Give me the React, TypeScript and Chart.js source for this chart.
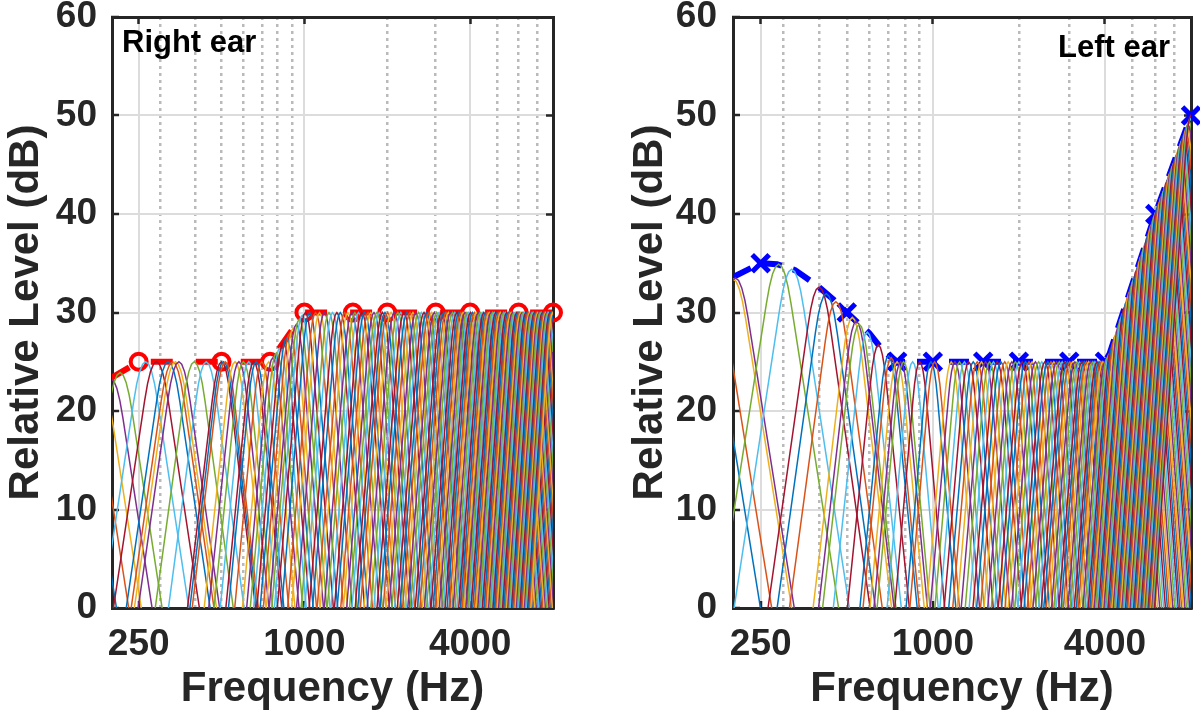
import { useEffect, useRef } from "react"
import { Chart, registerables } from "chart.js"

Chart.register(...registerables)

const FONT = '"Liberation Sans", Arial, Helvetica, sans-serif'
const INK = "#262626"
const GRID = "#dcdcdc"
const MINOR_GRID = "#bababa"
// MATLAB default colour order
const lineColors = ["#0072BD", "#D95319", "#EDB120", "#7E2F8E", "#77AC30", "#4DBEEE", "#A2142F"]

// axes
const freqMin = 200
const freqMax = 8000
const freqTicks = [250, 1000, 4000]
const freqMinorTicks = [300, 400, 500, 600, 700, 800, 900, 2000, 3000, 5000, 6000, 7000]

// right ear audiogram (red circles); 125 Hz sits left of the visible range
const rightEarHz = [125, 250, 500, 750, 1000, 1500, 2000, 3000, 4000, 6000, 8000]
const rightEarDb = [20, 25, 25, 25, 30, 30, 30, 30, 30, 30, 30]

// left ear audiogram (blue crosses) and the dashed trace through it
const leftEarHz = [250, 500, 750, 1000, 1500, 2000, 3000, 4000, 6000, 8000]
const leftEarDb = [35, 30, 25, 25, 25, 25, 25, 25, 40, 50]
const leftTraceHz = [200, 250, 285, 330, 395, 450, 500, 600, 680, 750, 4000, 4150, 6000, 8000]
const leftTraceDb = [33.6, 35, 34.9, 34.3, 32.7, 31.3, 30, 27.9, 25.9, 25, 25, 25.8, 40, 50]

// one filter's profile: offset from centre (in dB of skirt) and drop below its peak
const shapeOffsetDb = [-70, -8, -6, -4, -2, 0, 2, 4, 6, 8, 70]
const shapeDropDb = [66, 4, 2.25, 1, 0.25, 0, 0.25, 1, 2.25, 4, 66]

// skirt steepness (dB per octave) against centre frequency
const slopeHz = [150, 300, 450, 600, 900, 1500, 3000, 5000, 8000]
const slopeDbPerOct = [54, 56, 64, 82, 100, 102, 106, 114, 128]

// right ear filters: centre (Hz) and peak (dB)
const rightFilterHz = [
  150, 165, 182, 198, 214, 265, 290, 320, 332, 340, 350, 398, 440, 500, 508, 516, 560, 578, 600,
  628, 655, 668, 700, 742, 768, 792, 815, 838, 862, 886, 910, 935, 958, 982,
  1008, 1045, 1098, 1135, 1182, 1228, 1265, 1312, 1350, 1402, 1438, 1487, 1525, 1572, 1618, 1655,
  1704, 1742, 1790, 1833, 1870, 1921, 1962,
  2005, 2065, 2120, 2185, 2240, 2300, 2360, 2420, 2480, 2540, 2600, 2660, 2720, 2780, 2840, 2900,
  2965, 3025, 3085, 3150, 3210, 3270, 3335, 3395, 3455, 3520, 3580, 3645, 3705, 3770, 3830, 3895, 3955,
  4015, 4080, 4150, 4215, 4285, 4350, 4420, 4485, 4555, 4620, 4690, 4755, 4825, 4890, 4960, 5025,
  5095, 5160, 5230, 5295, 5365, 5430, 5500, 5565, 5635, 5700, 5770, 5835, 5905, 5970, 6040, 6105,
  6175, 6240, 6310, 6375, 6445, 6510, 6580, 6645, 6715, 6780, 6850, 6915, 6985, 7050, 7120, 7185,
  7255, 7320, 7390, 7455, 7525, 7590, 7660, 7725, 7795, 7860, 7930, 7990,
]
const rightFilterDb = [
  21.3, 22.0, 22.7, 23.3, 23.9,
  25, 25, 25, 25, 25, 25, 25, 25, 25, 25, 25, 25, 25, 25, 25, 25, 25, 25, 25,
  25.4, 25.9, 26.4, 26.9, 27.4, 27.9, 28.4, 28.8, 29.3, 29.7,
  30, 30, 30, 30, 30, 30, 30, 30, 30, 30,
  30, 30, 30, 30, 30, 30, 30, 30, 30, 30,
  30, 30, 30, 30, 30, 30, 30, 30, 30, 30,
  30, 30, 30, 30, 30, 30, 30, 30, 30, 30,
  30, 30, 30, 30, 30, 30, 30, 30, 30, 30,
  30, 30, 30, 30, 30, 30, 30, 30, 30, 30,
  30, 30, 30, 30, 30, 30, 30, 30, 30, 30,
  30, 30, 30, 30, 30, 30, 30, 30, 30, 30,
  30, 30, 30, 30, 30, 30, 30, 30, 30, 30,
  30, 30, 30, 30, 30, 30, 30, 30, 30, 30,
  30, 30, 30, 30, 30, 30, 30, 30, 30, 30,
  30, 30, 30, 30, 30, 30,
]

// left ear filters: centre (Hz) and peak (dB)
const leftFilterHz = [
  158, 172, 200, 204, 289, 321, 400, 424, 458, 523, 540, 553, 590, 645, 700, 715, 750, 772, 790,
  850, 900, 985, 1015,
  1160, 1195, 1240, 1290, 1335, 1385, 1430, 1480, 1530, 1580, 1630, 1680, 1730, 1785, 1835, 1890, 1945,
  2000, 2055, 2110, 2170, 2225, 2285, 2345, 2405, 2465, 2525, 2590, 2650, 2710, 2770, 2835, 2895,
  2955, 3015, 3080, 3140, 3200, 3260, 3325, 3385, 3445, 3510, 3570, 3630, 3690, 3755, 3815, 3875, 3935,
  4020, 4090, 4160, 4225, 4295, 4360, 4430, 4495, 4565, 4630, 4700, 4765, 4835, 4900, 4970, 5035,
  5105, 5170, 5240, 5305, 5375, 5440, 5510, 5575, 5645, 5710, 5780, 5845, 5915, 5980, 6050, 6115,
  6185, 6250, 6320, 6385, 6455, 6520, 6590, 6655, 6725, 6790, 6860, 6925, 6995, 7060, 7130, 7195,
  7265, 7330, 7400, 7465, 7535, 7600, 7670, 7735, 7805, 7870, 7940, 7990,
]
const leftFilterDb = [
  31.7, 32.3, 33.4, 33.5, 34.9, 34.4, 32.6, 31.9, 31.1, 29.5, 29.1, 28.8, 28.0, 26.7, 25.6, 25.4,
  25, 25, 25, 25, 25, 25, 25,
  25, 25, 25, 25, 25, 25, 25, 25, 25, 25,
  25, 25, 25, 25, 25, 25, 25, 25, 25, 25,
  25, 25, 25, 25, 25, 25, 25, 25, 25, 25,
  25, 25, 25, 25, 25, 25, 25, 25, 25, 25,
  25, 25, 25, 25, 25, 25, 25, 25, 25, 25,
  25.1, 25.5, 25.9, 26.5, 27.1, 27.7, 28.3, 28.9, 29.5, 30.0, 30.6, 31.1, 31.7, 32.2, 32.8,
  33.3, 33.8, 34.3, 34.8, 35.3, 35.8, 36.3, 36.8, 37.2, 37.7, 38.1, 38.6, 39.0, 39.5, 39.9,
  40.3, 40.7, 41.1, 41.4, 41.8, 42.2, 42.5, 42.9, 43.3, 43.6, 44.0, 44.3, 44.7, 45.0, 45.3,
  45.7, 46.0, 46.3, 46.7, 47.0, 47.3, 47.6, 47.9, 48.2, 48.5, 48.8, 49.1, 49.4, 49.7, 50.0,
]

function slopeAt(f: number) {
  if (f <= slopeHz[0]) return slopeDbPerOct[0]
  for (let i = 1; i < slopeHz.length; i++) {
    if (f <= slopeHz[i]) {
      const t = Math.log2(f / slopeHz[i - 1]) / Math.log2(slopeHz[i] / slopeHz[i - 1])
      return slopeDbPerOct[i - 1] + t * (slopeDbPerOct[i] - slopeDbPerOct[i - 1])
    }
  }
  return slopeDbPerOct[slopeDbPerOct.length - 1]
}

const earLabel = {
  id: "earLabel",
  afterDraw(chart: any, _args: any, opts: any) {
    const { ctx, chartArea } = chart
    ctx.save()
    ctx.font = `bold 31px ${FONT}`
    ctx.fillStyle = "#000"
    ctx.textAlign = opts.align
    ctx.textBaseline = "alphabetic"
    const x = opts.align === "left" ? chartArea.left + opts.dx : chartArea.right - opts.dx
    ctx.fillText(opts.text, x, chartArea.top + opts.dy)
    ctx.restore()
  },
}

const tickFont = { family: FONT, size: 37, weight: "bold" as const }
const titleFont = { family: FONT, size: 42, weight: "bold" as const }

function makePanel(canvas: HTMLCanvasElement, p: any) {
  const filterSets = p.filterHz.map((fc: number, i: number) => {
    const s = slopeAt(fc)
    return {
      data: shapeOffsetDb.map((v, k) => ({ x: fc * Math.pow(2, v / s), y: p.filterDb[i] - shapeDropDb[k] })),
      borderColor: lineColors[i % lineColors.length],
      borderWidth: 1.5,
      pointRadius: 0,
      clip: 0,
      order: -i,
    }
  })

  const traceSet = {
    data: p.traceHz.map((f: number, i: number) => ({ x: f, y: p.traceDb[i] })),
    borderColor: p.color,
    borderWidth: 6,
    borderDash: p.dash,
    borderDashOffset: p.dashOffset,
    borderCapStyle: "butt",
    pointRadius: 0,
    clip: 0,
    order: 3,
  }

  const markSet = {
    data: p.markHz
      .map((f: number, i: number) => ({ x: f, y: p.markDb[i] }))
      .filter((pt: any) => pt.x >= freqMin),
    showLine: false,
    pointStyle: p.marker,
    pointRadius: p.markRadius,
    pointBorderWidth: p.markWidth,
    pointBorderColor: p.color,
    pointBackgroundColor: "rgba(0,0,0,0)",
    clip: false,
    order: 2,
  }

  const logAxis = (ticks: number[]) => ({
    type: "logarithmic" as const,
    min: freqMin,
    max: freqMax,
    afterBuildTicks: (s: any) => {
      s.ticks = ticks.map((v) => ({ value: v }))
    },
  })

  return new Chart(canvas, {
    type: "line",
    data: { datasets: [...filterSets, markSet, traceSet] as any },
    plugins: [earLabel],
    options: {
      responsive: false,
      animation: false,
      events: [],
      layout: { autoPadding: false, padding: { left: 0, right: p.padRight, top: 17, bottom: 0 } },
      plugins: {
        legend: { display: false },
        tooltip: { enabled: false },
        earLabel: p.label,
      } as any,
      scales: {
        x: {
          ...logAxis(freqTicks),
          position: "bottom",
          afterFit: (s: any) => {
            s.height = 113
            s.paddingLeft = 0
            s.paddingRight = 0
          },
          ticks: {
            autoSkip: false,
            maxRotation: 0,
            minRotation: 0,
            padding: 22,
            color: INK,
            font: tickFont,
            callback: (v: any) => String(v),
          },
          grid: { color: GRID, lineWidth: 2, tickLength: -7, tickWidth: 2.5, tickColor: INK },
          border: { color: INK, width: 3 },
          title: { display: true, text: "Frequency (Hz)", color: INK, font: titleFont, padding: { top: 0, bottom: 6 } },
        },
        xMinor: {
          ...logAxis(freqMinorTicks),
          position: "bottom",
          afterFit: (s: any) => {
            s.height = 0
            s.paddingLeft = 0
            s.paddingRight = 0
          },
          ticks: { display: false },
          grid: { color: MINOR_GRID, lineWidth: 2.5, drawTicks: false },
          border: { display: false, dash: [3, 4] },
        },
        xTop: {
          ...logAxis(freqTicks),
          position: "top",
          afterFit: (s: any) => {
            s.height = 0
            s.paddingLeft = 0
            s.paddingRight = 0
          },
          ticks: { display: false },
          grid: { drawOnChartArea: false, tickLength: -7, tickWidth: 2.5, tickColor: INK },
          border: { color: INK, width: 3 },
        },
        y: {
          type: "linear",
          position: "left",
          min: 0,
          max: 60,
          afterFit: (s: any) => {
            s.width = p.yWidth
            s.paddingTop = 0
            s.paddingBottom = 0
          },
          ticks: { stepSize: 10, padding: p.yTickPad, color: INK, font: tickFont },
          grid: { color: GRID, lineWidth: 2, tickLength: -7, tickWidth: 2.5, tickColor: INK },
          border: { color: INK, width: 3 },
          title: {
            display: true,
            text: "Relative Level (dB)",
            color: INK,
            font: titleFont,
            padding: { top: p.yTitlePad, bottom: 0 },
          },
        },
        yRight: {
          type: "linear",
          position: "right",
          min: 0,
          max: 60,
          afterFit: (s: any) => {
            s.width = 0
            s.paddingTop = 0
            s.paddingBottom = 0
          },
          ticks: { stepSize: 10, display: false },
          grid: { drawOnChartArea: false, tickLength: -7, tickWidth: 2.5, tickColor: INK },
          border: { color: INK, width: 3 },
        },
      } as any,
    },
  })
}

const rightEarPanel = {
  filterHz: rightFilterHz,
  filterDb: rightFilterDb,
  traceHz: rightEarHz,
  traceDb: rightEarDb,
  markHz: rightEarHz,
  markDb: rightEarDb,
  color: "#ff0000",
  dash: [22, 23],
  dashOffset: 26.5,
  marker: "circle",
  markRadius: 8,
  markWidth: 4,
  padRight: 47,
  yWidth: 112,
  yTickPad: 22,
  yTitlePad: 1,
  label: { text: "Right ear", align: "left", dx: 10, dy: 35 },
}

const leftEarPanel = {
  filterHz: leftFilterHz,
  filterDb: leftFilterDb,
  traceHz: leftTraceHz,
  traceDb: leftTraceDb,
  markHz: leftEarHz,
  markDb: leftEarDb,
  color: "#0000ff",
  dash: [20, 12],
  dashOffset: 0,
  marker: "crossRot",
  markRadius: 12,
  markWidth: 5,
  padRight: 9,
  yWidth: 133,
  yTickPad: 23,
  yTitlePad: 25,
  label: { text: "Left ear", align: "right", dx: 21, dy: 40 },
}

export default function App() {
  const leftRef = useRef<HTMLCanvasElement>(null)
  const rightRef = useRef<HTMLCanvasElement>(null)

  useEffect(() => {
    if (!leftRef.current || !rightRef.current) return
    Chart.defaults.font.family = FONT
    const charts = [makePanel(leftRef.current, rightEarPanel), makePanel(rightRef.current, leftEarPanel)]
    return () => charts.forEach((c) => c.destroy())
  }, [])

  return (
    <div style={{ position: "fixed", left: 0, top: 0, width: 1200, height: 721, background: "#fff" }}>
      <canvas ref={leftRef} width={600} height={721} style={{ position: "absolute", left: 0, top: 0 }} />
      <canvas ref={rightRef} width={600} height={721} style={{ position: "absolute", left: 600, top: 0 }} />
    </div>
  )
}
